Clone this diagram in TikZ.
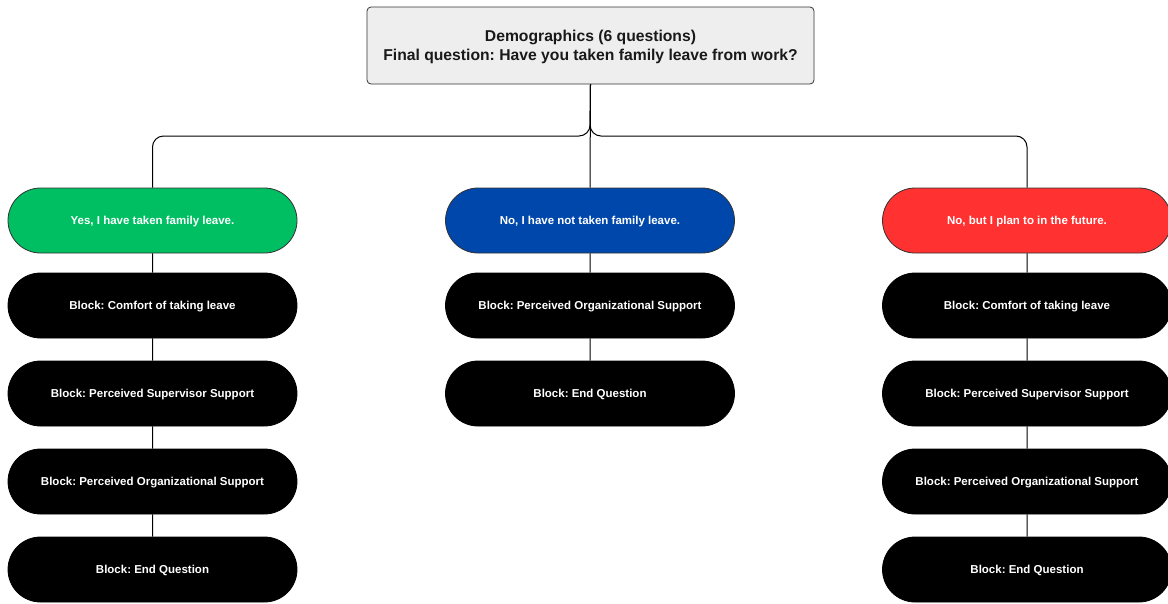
\documentclass[tikz,border=0pt]{standalone}
\usepackage{fontspec}
\setmainfont{Liberation Sans}
\usetikzlibrary{positioning,shapes.misc}
\definecolor{pgreen}{HTML}{00BF63}
\definecolor{pblue}{HTML}{0047AB}
\definecolor{pred}{HTML}{FF3131}
\definecolor{topfill}{HTML}{EEEEEE}
\definecolor{edgegray}{HTML}{333333}
\tikzset{
  pill/.style={rounded rectangle, draw=edgegray, line width=0.8pt, minimum width=289pt, minimum height=65pt,
    text=white, font=\fontsize{11.5}{13}\selectfont\bfseries\frenchspacing, inner sep=0pt,
    text height=8.3pt, text depth=0pt},
  blockpill/.style={pill, fill=black, draw=black},
  topbox/.style={draw=edgegray, fill=topfill, rounded corners=4pt, line width=0.8pt, minimum width=447pt, minimum height=77pt,
    align=center, font=\fontsize{15.7}{19}\selectfont\bfseries\frenchspacing, text=black!90, inner sep=0pt,
    text depth=0pt},
  conn/.style={draw=black, line width=1pt}
}
\begin{document}
\begin{tikzpicture}[x=1pt,y=-1pt]
\useasboundingbox (0,0) rectangle (1168,603);
\node[topbox] (top) at (590.5,45.5) {Demographics (6 questions)\\Final question: Have you taken family leave from work?};
% row 1
\node[pill, fill=pgreen] (yes) at (152.5,220.5) {Yes, I have taken family leave.};
\node[pill, fill=pblue] (no) at (590,220.5) {No, I have not taken family leave.};
\node[pill, fill=pred] (plan) at (1027,220.5) {No, but I plan to in the future.};
% left column
\node[blockpill] (l1) at (152.5,305.5) {Block: Comfort of taking leave};
\node[blockpill] (l2) at (152.5,393.5) {Block: Perceived Supervisor Support};
\node[blockpill] (l3) at (152.5,481.5) {Block: Perceived Organizational Support};
\node[blockpill] (l4) at (152.5,569.5) {Block: End Question};
% middle column
\node[blockpill] (m1) at (590,305.5) {Block: Perceived Organizational Support};
\node[blockpill] (m2) at (590,393.5) {Block: End Question};
% right column
\node[blockpill] (r1) at (1027,305.5) {Block: Comfort of taking leave};
\node[blockpill] (r2) at (1027,393.5) {Block: Perceived Supervisor Support};
\node[blockpill] (r3) at (1027,481.5) {Block: Perceived Organizational Support};
\node[blockpill] (r4) at (1027,569.5) {Block: End Question};
% connectors
\coordinate (j) at (590,136);
\draw[conn] (top.south) -- (no.north);
\draw[conn, rounded corners=11pt] (top.south) -- (j) -| (yes.north);
\draw[conn, rounded corners=11pt] (top.south) -- (j) -| (plan.north);
\draw[conn] (yes) -- (l1); \draw[conn] (l1) -- (l2); \draw[conn] (l2) -- (l3); \draw[conn] (l3) -- (l4);
\draw[conn] (no) -- (m1); \draw[conn] (m1) -- (m2);
\draw[conn] (plan) -- (r1); \draw[conn] (r1) -- (r2); \draw[conn] (r2) -- (r3); \draw[conn] (r3) -- (r4);
\end{tikzpicture}
\end{document}
